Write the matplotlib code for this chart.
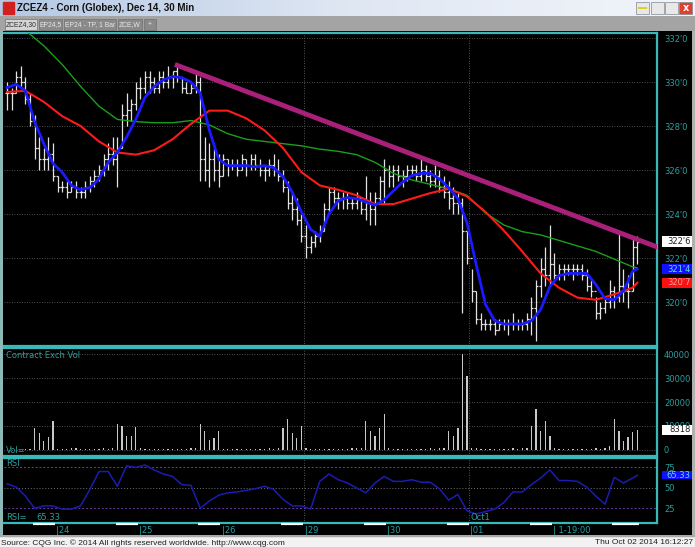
import numpy as np
import matplotlib.pyplot as plt
from matplotlib.patches import Rectangle
from matplotlib.colors import LinearSegmentedColormap
import matplotlib.transforms as mtransforms

W, H = 695, 547

# ---- 30 min bars (cents/bu) ----
highs = [330.0, 329.75, 330.5, 330.75, 330.25, 329.5, 328.5, 327.5, 327.0, 327.5,
         327.25, 325.75, 325.5, 325.5, 325.5, 325.5, 325.25, 325.5, 325.75, 326.0,
         326.25, 326.75, 327.25, 327.5, 327.5, 329.0, 329.5, 329.25, 330.0, 330.25,
         330.5, 330.5, 330.25, 330.5, 330.5, 330.75, 330.5, 330.75, 330.25, 330.0,
         330.0, 330.5, 330.25, 327.5, 327.25, 327.0, 326.75, 326.75, 326.5, 326.5,
         326.5, 326.75, 326.5, 326.75, 326.75, 326.5, 326.25, 326.5, 326.75, 326.5,
         326.0, 325.5, 325.0, 324.75, 324.0, 323.5, 323.0, 323.25, 323.5, 324.5,
         325.25, 325.25, 325.0, 325.0, 325.0, 324.75, 325.0, 324.75, 325.75, 325.0,
         325.0, 325.75, 326.5, 326.25, 326.25, 326.25, 326.0, 326.25, 326.25, 326.25,
         326.5, 326.25, 326.0, 326.25, 326.0, 325.75, 325.5, 325.25, 325.0, 324.75,
         323.25, 321.5, 320.5, 319.5, 319.25, 319.25, 319.25, 319.25, 319.25, 319.25,
         319.5, 319.25, 319.25, 319.5, 320.25, 321.0, 322.0, 322.5, 323.5, 322.25,
         321.75, 321.75, 321.75, 321.75, 321.75, 321.75, 321.5, 321.0, 320.25, 320.0,
         320.25, 321.0, 320.75, 323.25, 321.5, 321.25, 323.0, 323.0]
lows = [328.75, 328.75, 329.5, 329.75, 329.0, 328.0, 326.5, 326.0, 326.0, 326.0,
        325.5, 325.0, 325.0, 324.75, 325.0, 324.75, 324.75, 324.75, 325.0, 325.25,
        325.5, 325.75, 326.0, 326.25, 325.25, 327.0, 328.0, 328.25, 328.75, 329.25,
        329.5, 329.5, 329.5, 329.5, 329.75, 329.75, 329.75, 330.0, 329.5, 329.5,
        329.5, 329.5, 325.5, 325.5, 325.25, 325.5, 325.25, 325.75, 325.75, 326.0,
        325.75, 326.0, 325.75, 326.0, 326.0, 325.75, 325.5, 325.75, 325.75, 325.5,
        325.0, 324.25, 323.75, 323.5, 322.75, 322.0, 322.25, 322.5, 322.75, 323.25,
        324.0, 324.5, 324.25, 324.25, 324.25, 324.25, 324.25, 324.0, 323.75, 323.5,
        323.5, 324.5, 324.5, 325.25, 325.25, 325.5, 325.25, 325.5, 325.75, 325.5,
        325.5, 325.5, 325.25, 325.25, 325.0, 324.75, 324.25, 324.0, 324.0, 319.5,
        321.75, 320.0, 319.0, 318.75, 318.75, 318.75, 318.5, 318.75, 318.75, 318.5,
        318.75, 318.75, 318.75, 318.75, 318.5, 318.25, 320.25, 320.75, 320.75, 321.0,
        321.0, 321.0, 321.25, 321.0, 321.25, 321.0, 320.5, 320.25, 319.25, 319.25,
        319.5, 319.75, 319.75, 320.0, 320.0, 319.75, 320.5, 321.75]
closes = [329.5, 329.5, 330.25, 330.0, 329.25, 328.25, 327.0, 326.5, 326.5, 326.75,
          325.75, 325.25, 325.25, 325.0, 325.25, 325.0, 325.0, 325.25, 325.5, 325.75,
          326.0, 326.5, 326.75, 326.5, 327.0, 328.5, 328.75, 329.0, 329.75, 329.75,
          330.25, 330.0, 329.75, 330.25, 330.0, 330.25, 330.5, 330.25, 329.75, 329.5,
          329.75, 330.0, 326.5, 326.0, 326.5, 326.0, 325.75, 326.5, 326.25, 326.25,
          326.0, 326.5, 326.25, 326.5, 326.25, 326.0, 326.0, 326.25, 326.0, 325.75,
          325.25, 324.5, 324.25, 323.75, 323.0, 322.5, 322.75, 323.0, 323.25, 324.25,
          325.0, 324.75, 324.75, 324.75, 324.5, 324.5, 324.75, 324.25, 324.5, 324.25,
          324.75, 325.5, 326.0, 325.75, 326.0, 325.75, 325.75, 326.0, 326.0, 325.75,
          326.0, 325.75, 325.5, 325.75, 325.25, 325.0, 324.75, 324.5, 324.5, 323.25,
          322.0, 320.5, 319.25, 319.0, 319.0, 319.0, 318.75, 319.0, 319.0, 319.0,
          319.0, 319.0, 319.0, 319.25, 319.75, 320.75, 321.5, 321.25, 321.75, 321.25,
          321.5, 321.5, 321.5, 321.5, 321.5, 321.25, 320.75, 320.5, 319.5, 319.75,
          320.0, 320.5, 320.25, 320.75, 320.5, 320.5, 322.5, 322.75]
volume = [0, 0, 0, 0, 300, 400,
          9300, 6900, 3900, 5300, 12100,
          500, 400, 300, 600, 1000, 400, 300, 500, 400, 300, 600, 500, 700,
          10800, 9900, 5700, 6000, 9500,
          600, 400, 300, 500, 400, 300, 400, 500, 300, 400, 500, 600, 800,
          11000, 7900, 4000, 5100, 8000,
          500, 400, 300, 400, 500, 300, 400, 300, 500, 400, 600, 500, 700,
          9000, 13000, 7000, 5000, 10000,
          600, 400, 500, 300, 400, 500, 300, 400, 500, 300, 600, 700, 900,
          12000, 8000, 6000, 9000, 15000,
          700, 500, 400, 300, 500, 400, 300, 500, 400, 600, 500, 700, 900,
          8000, 6000, 9000, 40000, 31000,
          900, 600, 500, 400, 500, 400, 300, 500, 400, 600, 500, 700, 1000,
          10000, 17000, 8000, 12000, 6000,
          700, 500, 400, 300, 500, 400, 300, 500, 400, 600, 500, 700, 1500,
          12700, 7700, 3700, 5600, 7400, 8318]

# fast average, sampled every 2 bars + last bar
fast_idx = list(range(0, 137, 2)) + [137]
ma_fast = [329.75, 329.9, 329.6, 328.2, 327.2, 326.3, 325.9, 325.3, 325.1, 325.2,
           325.6, 326.35, 326.8, 327.5, 328.3, 329.3, 329.8, 330.1, 330.25, 330.2,
           330.0, 329.5, 327.8, 326.5, 326.2, 326.2, 326.2, 326.15, 326.2, 326.1,
           325.7, 325.0, 324.1, 323.3, 323.0, 324.0, 324.6, 324.75, 324.7, 324.55,
           324.4, 324.65, 325.05, 325.45, 325.75, 325.85, 325.85, 325.6, 325.2, 324.7,
           323.6, 321.7, 319.9, 319.15, 319.0, 319.0, 319.0, 319.15, 319.65, 320.7,
           321.2, 321.3, 321.3, 321.3, 320.8, 320.15, 320.1, 320.5, 321.4, 321.5]
# slower averages, sampled every 4 bars + last bar
ma_idx = list(range(0, 137, 4)) + [137]
ma_mid = [329.55, 329.6, 329.1, 328.45, 328.0, 327.3, 326.8, 326.7, 326.9, 327.4,
          328.1, 328.7, 328.7, 328.35, 327.8, 327.0, 325.9, 325.3, 325.1, 324.85,
          324.45, 324.45, 324.7, 324.95, 325.15, 324.8, 324.1, 323.25, 322.3, 321.3,
          320.65, 320.2, 320.1, 320.35, 320.65, 320.875]
ma_slow = [333.0, 332.35, 331.65, 330.8, 329.8, 328.9, 328.3, 328.2, 328.15, 328.15,
           328.25, 328.05, 327.65, 327.4, 327.3, 327.2, 327.1, 326.95, 326.85, 326.7,
           326.35, 325.85, 325.55, 325.35, 325.15, 324.85, 324.05, 323.5, 323.2, 323.05,
           322.8, 322.55, 322.3, 321.95, 321.6, 321.55]

# RSI sampled every 2 bars + last bar
rsi_idx = list(range(0, 137, 2)) + [137]
rsi = [55, 51, 40, 25, 28, 28, 24, 24, 28, 48,
       70, 70, 52, 77, 75, 78, 72, 67, 64, 54,
       53, 25, 34, 41, 44, 45, 47, 49, 52, 48,
       36, 28, 28, 24, 58, 67, 60, 56, 50, 44,
       56, 64, 58, 58, 60, 57, 57, 49, 35, 42,
       22, 18, 21, 24, 32, 45, 45, 54, 62, 72,
       59, 59, 58, 51, 40, 30, 63, 56, 62, 65.33]

trend_x = [36.5, 142]
trend_y = [330.8, 322.45]

day_starts = [11, 29, 47, 65, 83, 101, 119]
day_labels = ['|24', '|25', '|26', '|29', '|30', '|01', '| 1-19:00']
sessions = [(6, 10), (24, 28), (42, 46), (60, 64), (78, 82), (96, 100), (114, 118), (132, 137)]
week_lines = [64.5, 100.5]

TEAL = '#38b8b8'
LBL = '#2aa0a0'
FONT = 'DejaVu Sans'
LSIZE = 6.0


def rect(x0, y0, x1, y1):
    # pixel box -> figure fraction [l, b, w, h]
    return [x0 / W, 1 - y1 / H, (x1 - x0) / W, (y1 - y0) / H]


def fmt_price(v):
    whole = int(np.floor(v + 1e-9))
    eighths = int(round((v - whole) * 8))
    return f"{whole}'{eighths}"


fig = plt.figure(figsize=(W / 100, H / 100), dpi=100, facecolor='black')

# window chrome
title_ax = fig.add_axes(rect(0, 0, W, 16))
grad = np.linspace(0, 1, 256).reshape(1, -1)
title_cmap = LinearSegmentedColormap.from_list('tb', ['#b4c8e4', '#dfe7f3', '#f2f5fa'])
title_ax.imshow(grad, aspect='auto', cmap=title_cmap, extent=[0, 1, 0, 1])
title_ax.set_axis_off()
title_ax.add_patch(Rectangle((0.004, 0.15), 0.016, 0.7, color='#d02020', transform=title_ax.transAxes))
title_ax.text(0.024, 0.5, 'ZCEZ4 - Corn (Globex), Dec 14, 30 Min', transform=title_ax.transAxes,
              va='center', ha='left', fontsize=7, fontweight='bold', family='Liberation Sans', color='#101010')
for x0, fc in [(636, '#e8e8e8'), (651, '#e8e8e8'), (665, '#e8e8e8'), (679, '#e04030')]:
    title_ax.add_patch(Rectangle((x0 / W, 0.12), 13 / W, 0.76, facecolor=fc, edgecolor='#808890',
                                 lw=0.5, transform=title_ax.transAxes))
title_ax.add_patch(plt.Circle((642.5 / W, 0.5), 0.0065, color='#e0d020', transform=title_ax.transAxes))
title_ax.text(685.5 / W, 0.48, 'x', transform=title_ax.transAxes, ha='center', va='center',
              fontsize=7, color='white', fontweight='bold')

tab_ax = fig.add_axes(rect(0, 16, W, 31))
tab_ax.set_facecolor('#a4a4a4')
tab_ax.set_xlim(0, W)
tab_ax.set_ylim(31, 16)
tab_ax.set_xticks([])
tab_ax.set_yticks([])
for s in tab_ax.spines.values():
    s.set_visible(False)
tabs = [('ZCEZ4,30', 5, 37, True), ('EP24,5', 39, 62, False), ('EP24 - TP, 1 Bar', 64, 116, False),
        ('ZCE,W', 118, 142, False), ('+', 144, 156, False)]
for name, a, b, sel in tabs:
    tab_ax.add_patch(Rectangle((a, 19), b - a, 11, facecolor='#d4d4d4' if sel else '#8a8a8a',
                               edgecolor='#707070', lw=0.5))
    tab_ax.text((a + b) / 2, 24.5, name, ha='center', va='center', fontsize=4.9, family='Liberation Sans',
                color='#303030' if sel else '#e8e8e8')

bot_ax = fig.add_axes(rect(0, 535, W, H))
bot_ax.set_facecolor('#f2f2f2')
bot_ax.set_xticks([])
bot_ax.set_yticks([])
for s in bot_ax.spines.values():
    s.set_visible(False)
bot_ax.axhline(1, color='#a8a8a8', lw=2.5)
bot_ax.text(0.002, 0.35, 'Source: CQG Inc. \u00a9 2014 All rights reserved worldwide. http://www.cqg.com',
            transform=bot_ax.transAxes, fontsize=6, family='Liberation Sans', va='center', color='#202020')
bot_ax.text(0.997, 0.35, 'Thu Oct 02 2014 16:12:27', transform=bot_ax.transAxes, ha='right',
            fontsize=6, family='Liberation Sans', va='center', color='#202020')

fig.patches.append(Rectangle((0, 1 - 535 / H), 3 / W, (535 - 31) / H, transform=fig.transFigure,
                             facecolor='#8fb8b8', edgecolor='none', zorder=-1))
fig.patches.append(Rectangle((692 / W, 1 - 535 / H), 3 / W, (535 - 31) / H, transform=fig.transFigure,
                             facecolor='#b0b0b0', edgecolor='none', zorder=-1))

n = len(closes)
x = np.arange(n)
opens = [closes[0]] + closes[:-1]
xlim = (-0.65, 141.3)
BOX_W = 0.047


def style_panel(ax):
    ax.set_facecolor('black')
    ax.set_xlim(*xlim)
    ax.set_xticks([])
    ax.yaxis.tick_right()
    ax.tick_params(axis='y', colors=LBL, labelsize=LSIZE, length=0, pad=5)
    ax.spines['left'].set_visible(False)
    for k in ('top', 'bottom', 'right'):
        ax.spines[k].set_color(TEAL)
        ax.spines[k].set_linewidth(1.6)
    for wx in week_lines:
        ax.axvline(wx, color='#707070', lw=0.6, ls=(0, (1, 2)), zorder=0)


def value_box(ax, val, text, fc, tc, half):
    bl = mtransforms.blended_transform_factory(ax.transAxes, ax.transData)
    ax.add_patch(Rectangle((1.007, val - half), BOX_W, 2 * half, transform=bl, facecolor=fc,
                           edgecolor='none', clip_on=False, zorder=6))
    ax.text(1.007 + BOX_W - 0.003, val, text, transform=bl, ha='right', va='center', fontsize=LSIZE,
            family=FONT, color=tc, zorder=7, clip_on=False)


# ---- price panel ----
ax = fig.add_axes(rect(4, 33, 657, 346))
style_panel(ax)
ax.set_ylim(318.0, 332.23)
pticks = np.arange(320, 333, 2)
ax.set_yticks(pticks)
ax.set_yticklabels([fmt_price(v) for v in pticks], family=FONT)
for v in pticks:
    ax.axhline(v, color='#6a6a6a', lw=0.6, ls=(0, (1, 2)), zorder=0)
ax.plot(ma_idx, ma_slow, color='#1aa01a', lw=1.0, zorder=3)
ax.plot(ma_idx, ma_mid, color='#ff1a1a', lw=1.5, zorder=3)
ax.vlines(x, lows, highs, color='#e2e2e2', lw=0.9, zorder=2)
ax.hlines(opens, x - 0.45, x, color='#e2e2e2', lw=0.9, zorder=2)
ax.hlines(closes, x, x + 0.45, color='#e2e2e2', lw=0.9, zorder=2)
ax.plot(fast_idx, ma_fast, color='#1a1aff', lw=2.0, zorder=4)
ax.plot(trend_x, trend_y, color='#a8207a', lw=3.5, solid_capstyle='butt', zorder=5)

value_box(ax, closes[-1], fmt_price(closes[-1]), 'white', '#202020', 0.23)
value_box(ax, ma_fast[-1], fmt_price(ma_fast[-1]), '#1010ff', '#60e0e0', 0.23)
value_box(ax, ma_mid[-1], fmt_price(ma_mid[-1]), '#ff1010', '#f0a0a0', 0.23)

# ---- volume panel ----
vax = fig.add_axes(rect(4, 348, 657, 456))
style_panel(vax)
vax.set_ylim(-2530, 42530)
vticks = np.arange(0, 40001, 10000)
vax.set_yticks(vticks)
vax.set_yticklabels([str(v) for v in vticks], family=FONT)
for v in vticks:
    vax.axhline(v, color='#6a6a6a', lw=0.6, ls=(0, (1, 2)), zorder=0)
vax.bar(x, volume, width=0.3, color='#c8c8c8', zorder=2)
vax.text(0.003, 0.975, 'Contract Exch Vol', transform=vax.transAxes, ha='left', va='top',
         fontsize=LSIZE, family=FONT, color=LBL)
vax.text(0.003, 0.01, 'Vol=', transform=vax.transAxes, ha='left', va='bottom',
         fontsize=LSIZE, family=FONT, color=LBL)
value_box(vax, volume[-1], str(volume[-1]), 'white', '#202020', 2100)

# ---- RSI panel ----
rax = fig.add_axes(rect(4, 458, 657, 523))
style_panel(rax)
rax.set_ylim(7, 86.6)
rax.set_yticks([25, 50, 75])
rax.set_yticklabels(['25', '50', '75'], family=FONT)
rax.axhline(75, color='#a03838', lw=0.7, ls=(0, (2, 2)), zorder=0)
rax.axhline(50, color='#707070', lw=0.7, ls=(0, (1, 2)), zorder=0)
rax.axhline(25, color='#6a38a0', lw=0.7, ls=(0, (2, 2)), zorder=0)
rax.plot(rsi_idx, rsi, color='#1c1cb0', lw=1.1, zorder=3)
rax.text(0.003, 0.99, 'RSI', transform=rax.transAxes, ha='left', va='top', fontsize=LSIZE, family=FONT, color=LBL)
rax.text(0.003, 0.02, 'RSI=', transform=rax.transAxes, ha='left', va='bottom', fontsize=LSIZE, family=FONT, color=LBL)
rax.text(0.05, 0.02, f'{rsi[-1]:.2f}', transform=rax.transAxes, ha='left', va='bottom', fontsize=LSIZE,
         family=FONT, color=LBL)
value_box(rax, rsi[-1], f'{rsi[-1]:.2f}', '#1010ff', '#60e0e0', 4.8)

# date row under the RSI panel
dblend = mtransforms.blended_transform_factory(rax.transData, rax.transAxes)
for (a, b) in sessions:
    rax.plot([a - 0.4, b + 0.4], [-0.015, -0.015], transform=dblend, color='white', lw=1.6,
             clip_on=False, zorder=6, solid_capstyle='butt')
for d, lab in zip(day_starts, day_labels):
    rax.text(d - 0.3, -0.04, lab, transform=dblend, ha='left', va='top', fontsize=LSIZE,
             family=FONT, color=LBL, clip_on=False)
rax.text(day_starts[5] - 0.3, 0.02, 'Oct1', transform=dblend, ha='left', va='bottom', fontsize=LSIZE,
         family=FONT, color=LBL)

fig.savefig('out.png', dpi=100, facecolor='black')
